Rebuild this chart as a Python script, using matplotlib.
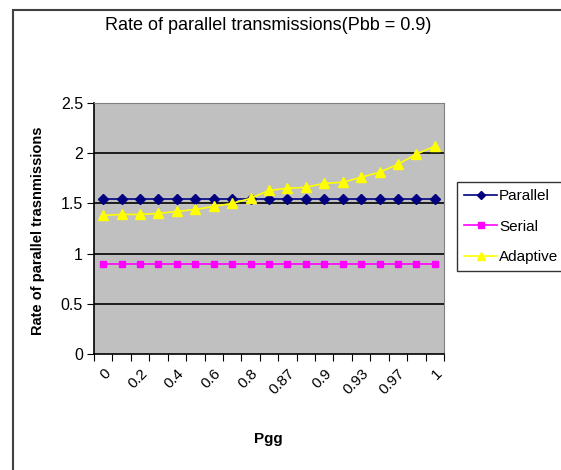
import matplotlib
matplotlib.use("Agg")
import matplotlib.pyplot as plt
from matplotlib.patches import Rectangle

categories = ["0", "0.1", "0.2", "0.3", "0.4", "0.5", "0.6", "0.7", "0.8", "0.85",
              "0.87", "0.89", "0.9", "0.92", "0.93", "0.95", "0.97", "0.99", "1"]
parallel = [1.54] * 19
serial = [0.90] * 19
adaptive = [1.38, 1.39, 1.39, 1.40, 1.42, 1.44, 1.47, 1.50, 1.55, 1.63,
            1.65, 1.66, 1.70, 1.71, 1.76, 1.81, 1.89, 1.99, 2.07]
yticks = [0, 0.5, 1, 1.5, 2, 2.5]
ytick_labels = ["0", "0.5", "1", "1.5", "2", "2.5"]

plt.rcParams['font.family'] = ['Liberation Sans', 'DejaVu Sans']

fig = plt.figure(figsize=(5.61, 4.70), dpi=100)
fig.patch.set_facecolor("white")
ax = fig.add_axes([94/561, 1-354/470, 350/561, 251/470])
ax.set_facecolor("#C0C0C0")

x = list(range(len(categories)))
l1, = ax.plot(x, parallel, color="#000080", marker="D", markersize=5, lw=1.2, label="Parallel")
l2, = ax.plot(x, serial, color="#FF00FF", marker="s", markersize=5, lw=1.2, label="Serial")
l3, = ax.plot(x, adaptive, color="#FFFF00", marker="^", markersize=7, lw=1.2, label="Adaptive")

ax.set_xlim(-0.5, len(categories) - 0.5)
ax.set_ylim(0, 2.5)
ax.set_yticks(yticks)
ax.set_yticklabels(ytick_labels, fontsize=11.5)
for yv in yticks[1:-1]:
    ax.axhline(yv, color="black", lw=1.2, zorder=0.5)

ax.set_xticks([i - 0.5 for i in range(len(categories) + 1)])
ax.set_xticklabels([])
ax.set_xticks(x[::2], minor=True)
ax.set_xticklabels(categories[::2], minor=True, rotation=45, ha="right", va="top",
                   fontsize=11, rotation_mode="anchor")
ax.tick_params(axis="x", which="minor", length=0, pad=9)
ax.tick_params(axis="x", which="major", length=5, direction="out", color="black")
ax.tick_params(axis="y", length=5, direction="out", color="black", pad=3)

for s in ["top", "right"]:
    ax.spines[s].set_color("#808080")
for s in ["left", "bottom"]:
    ax.spines[s].set_color("black")
    ax.spines[s].set_linewidth(1.2)

fig.text(268/561, 1-25/470, "Rate of parallel transmissions(Pbb = 0.9)",
         ha="center", va="center", fontsize=13)
fig.text(38/561, 1-231/470, "Rate of parallel trasnmissions", rotation=90,
         ha="center", va="center", fontsize=10.5, fontweight="bold")
fig.text(268/561, 1-439/470, "Pgg", ha="center", va="center",
         fontsize=11, fontweight="bold")

leg = fig.legend(handles=[l1, l2, l3], loc="upper left",
                 bbox_to_anchor=(457/561, 1-182/470), fontsize=11,
                 frameon=True, fancybox=False, edgecolor="black",
                 handlelength=2.2, handletextpad=0.1, labelspacing=1.1,
                 borderpad=0.45, borderaxespad=0, markerscale=0.8)
leg.get_frame().set_linewidth(1.0)

fig.patches.append(Rectangle((13/561, -0.1), 1.2, 1 - 10/470 + 0.1,
                             transform=fig.transFigure, fill=False,
                             edgecolor="#404040", lw=1.5))

fig.savefig("out.png", dpi=100)
